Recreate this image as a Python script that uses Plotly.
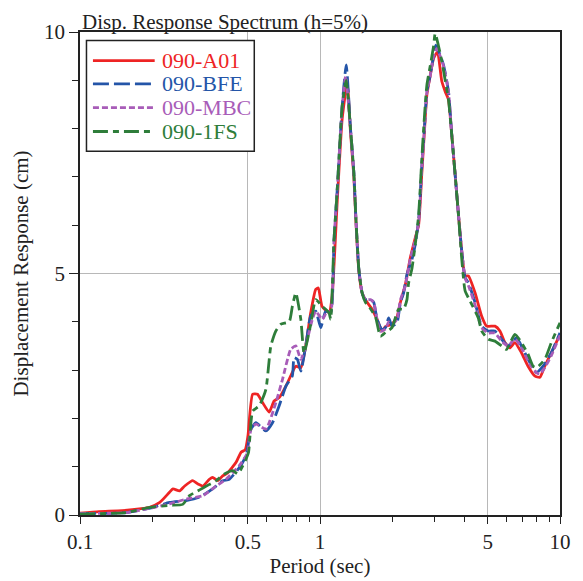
import plotly.graph_objects as go

# ---------------- data ----------------
names = ["090-A01", "090-BFE", "090-MBC", "090-1FS"]
colors = ["#ee2424", "#2455a8", "#a85cb8", "#2e7d3a"]
dashes = ["solid", "16px,5px", "6px,3px", "15px,5px,6px,5px"]

t_a01 = [0.1, 0.12, 0.15, 0.18, 0.195, 0.215, 0.236, 0.244, 0.26, 0.273, 0.295, 0.31, 0.325, 0.346, 0.357,
         0.375, 0.393, 0.412, 0.447, 0.469, 0.488, 0.501, 0.524, 0.549, 0.576, 0.614, 0.644, 0.676, 0.721,
         0.755, 0.793, 0.832, 0.872, 0.915, 0.96, 0.984, 1.02, 1.09, 1.122, 1.18, 1.237, 1.298, 1.341, 1.384,
         1.414, 1.452, 1.498, 1.548, 1.648, 1.729, 1.814, 1.874, 1.995, 2.093, 2.162, 2.268, 2.377, 2.494,
         2.575, 2.658, 2.728, 2.788, 2.88, 2.972, 3.087, 3.217, 3.323, 3.43, 3.54, 3.656, 3.775, 3.896,
         4.024, 4.153, 4.426, 4.714, 4.945, 5.358, 5.62, 5.896, 6.18, 6.486, 6.91, 7.36, 7.85, 8.24, 8.64,
         9.35, 10.0]
v_a01 = [0.04, 0.07, 0.09, 0.13, 0.16, 0.26, 0.47, 0.54, 0.5, 0.6, 0.71, 0.64, 0.6, 0.74, 0.78,
         0.71, 0.81, 0.87, 1.09, 1.3, 1.35, 1.64, 2.5, 2.5, 2.33, 2.13, 2.36, 2.43, 2.67,
         2.88, 3.08, 3.05, 3.5, 4.19, 4.67, 4.7, 4.32, 4.19, 4.5, 6.5, 8.2, 8.94, 7.9, 7.0,
         6.0, 5.05, 4.6, 4.45, 4.26, 4.05, 3.81, 3.9, 3.95, 4.1, 4.4, 4.77, 5.32, 5.74,
         6.0, 7.1, 8.0, 8.7, 9.1, 9.45, 9.59, 8.98, 8.77, 8.6, 7.87, 7.05, 6.22, 5.46,
         4.95, 4.95, 4.6, 4.12, 3.91, 3.91, 3.81, 3.57, 3.46, 3.57, 3.36, 3.08, 2.88, 2.85, 3.08,
         3.43, 3.74]

t_bfe = [0.1, 0.156, 0.2015, 0.236, 0.277, 0.315, 0.357, 0.393, 0.419, 0.461, 0.492, 0.516, 0.541, 0.595,
         0.634, 0.676, 0.721, 0.767, 0.78, 0.805, 0.832, 0.872, 0.915, 0.96, 1.007, 1.056, 1.108, 1.144,
         1.18, 1.237, 1.286, 1.341, 1.384, 1.414, 1.452, 1.498, 1.548, 1.623, 1.675, 1.729, 1.814, 1.874,
         1.933, 1.995, 2.093, 2.162, 2.231, 2.303, 2.415, 2.494, 2.575, 2.658, 2.728, 2.788, 2.88, 2.972,
         3.039, 3.269, 3.43, 3.54, 3.656, 3.775, 3.896, 4.024, 4.153, 4.426, 4.714, 5.024, 5.358, 5.707,
         6.084, 6.588, 7.02, 7.486, 7.975, 8.5, 9.2, 10.0]
v_bfe = [0.03, 0.05, 0.16, 0.26, 0.3, 0.37, 0.54, 0.71, 0.74, 0.98, 1.23, 1.78, 1.91, 1.74,
         1.91, 2.26, 2.67, 2.88, 3.26, 3.22, 2.98, 3.5, 4.12, 4.22, 3.88, 4.22, 4.19, 5.7,
         6.74, 8.46, 9.32, 7.98, 7.08, 6.05, 5.08, 4.6, 4.46, 4.46, 4.4, 4.05, 3.84, 3.88,
         4.08, 3.91, 3.98, 4.4, 4.6, 4.98, 5.29, 5.6, 6.1, 7.25, 8.08, 8.77, 9.11, 9.5,
         9.73, 9.32, 8.77, 7.87, 7.05, 6.22, 5.46, 4.91, 4.81, 4.4, 3.91, 3.81, 3.81, 3.64,
         3.5, 3.67, 3.43, 3.16, 2.95, 3.08, 3.36, 3.77]

t_mbc = [0.1, 0.156, 0.2, 0.236, 0.277, 0.325, 0.369, 0.406, 0.461, 0.499, 0.516, 0.541, 0.595, 0.655,
         0.698, 0.755, 0.793, 0.832, 0.872, 0.929, 0.96, 1.022, 1.072, 1.108, 1.144, 1.18, 1.237, 1.279,
         1.341, 1.384, 1.414, 1.452, 1.498, 1.548, 1.623, 1.675, 1.729, 1.786, 1.874, 1.933, 1.995, 2.093,
         2.162, 2.268, 2.377, 2.494, 2.575, 2.658, 2.728, 2.788, 2.88, 2.972, 3.067, 3.269, 3.43, 3.54,
         3.656, 3.775, 3.896, 4.024, 4.153, 4.426, 4.714, 5.024, 5.358, 5.707, 6.084, 6.486, 7.02, 7.486,
         7.975, 8.24, 8.64, 9.2, 10.0]
v_mbc = [0.03, 0.05, 0.15, 0.23, 0.33, 0.4, 0.6, 0.74, 1.02, 1.29, 1.78, 1.88, 1.78, 2.33,
         2.81, 3.43, 3.5, 3.22, 3.5, 4.05, 4.22, 4.05, 4.22, 4.19, 5.7, 6.74, 8.46, 9.08,
         7.98, 7.08, 6.05, 5.08, 4.6, 4.46, 4.46, 4.4, 4.05, 3.8, 3.85, 4.0, 3.95, 4.05,
         4.45, 4.75, 5.3, 5.7, 6.05, 7.2, 8.05, 8.75, 9.1, 9.5, 9.66, 9.3, 8.77, 7.87,
         7.05, 6.22, 5.46, 4.9, 4.75, 4.35, 3.88, 3.77, 3.77, 3.6, 3.5, 3.65, 3.4, 3.12,
         2.95, 2.92, 3.05, 3.3, 3.72]

t_1fs = [0.1, 0.156, 0.195, 0.236, 0.268, 0.286, 0.315, 0.336, 0.369, 0.4, 0.433, 0.454, 0.469, 0.492,
         0.504, 0.524, 0.558, 0.595, 0.624, 0.655, 0.687, 0.744, 0.767, 0.793, 0.832, 0.858, 0.915, 0.96,
         1.022, 1.09, 1.108, 1.144, 1.18, 1.237, 1.286, 1.341, 1.384, 1.414, 1.452, 1.498, 1.548, 1.597,
         1.703, 1.786, 1.874, 1.995, 2.127, 2.231, 2.303, 2.339, 2.415, 2.494, 2.575, 2.658, 2.728, 2.788,
         2.88, 2.972, 3.02, 3.217, 3.323, 3.43, 3.54, 3.656, 3.775, 3.896, 4.024, 4.22, 4.568, 4.714,
         5.024, 5.358, 5.707, 5.985, 6.486, 6.91, 7.36, 7.727, 7.975, 8.64, 9.2, 10.0]
v_1fs = [0.02, 0.05, 0.16, 0.2, 0.22, 0.4, 0.52, 0.6, 0.71, 0.85, 0.92, 0.85, 0.95, 1.16,
         1.3, 2.15, 2.26, 2.6, 3.5, 3.81, 3.95, 4.0, 4.32, 4.6, 4.05, 3.35, 3.95, 4.46,
         4.32, 4.19, 4.05, 5.7, 6.74, 8.46, 9.0, 7.98, 7.08, 6.05, 5.08, 4.6, 4.4, 4.32,
         4.1, 3.7, 3.78, 3.88, 4.26, 4.26, 4.46, 4.8, 5.1, 5.6, 6.2, 7.4, 8.3, 8.9,
         9.3, 9.7, 9.97, 9.4, 9.0, 8.6, 7.87, 7.05, 6.22, 5.3, 4.64, 4.43, 4.08, 3.81,
         3.64, 3.6, 3.5, 3.43, 3.74, 3.57, 3.33, 3.08, 3.05, 3.22, 3.57, 3.98]

periods = [t_a01, t_bfe, t_mbc, t_1fs]
values = [v_a01, v_bfe, v_mbc, v_1fs]

x_ticks = [0.1, 0.5, 1, 5, 10]
x_ticktext = ["0.1", "0.5", "1", "5", "10"]
x_minor = [0.2, 0.3, 0.4, 0.6, 0.7, 0.8, 0.9, 2, 3, 4, 6, 7, 8, 9]
y_ticks = [0, 5, 10]
y_minor = [1, 2, 3, 4, 6, 7, 8, 9]

title_text = "Disp. Response Spectrum (h=5%)"
x_title = "Period (sec)"
y_title = "Displacement Response (cm)"

# ---------------- figure ----------------
FONT = "Liberation Serif, Times New Roman, serif"
W, H = 583, 581
L, R, T, B = 80, 21, 32, 65
PW, PH = W - L - R, H - T - B


def px_x(px):
    return (px - L) / PW


def px_y(py):
    return (H - B - py) / PH


fig = go.Figure()
for t, v, n, c, d in zip(periods, values, names, colors, dashes):
    fig.add_trace(go.Scatter(x=t, y=v, mode="lines", name=n,
                             line=dict(color=c, width=2.8, dash=d, shape="spline", smoothing=0.5),
                             showlegend=False))

# manual legend (box, line samples, coloured labels)
shapes = [dict(type="rect", xref="paper", yref="paper",
               x0=px_x(86.5), x1=px_x(255), y0=px_y(151.5), y1=px_y(40.5),
               line=dict(color="#222", width=1.5), fillcolor="white", layer="above")]
annotations = []
row_y = [60.7, 84.0, 107.7, 131.7]
for i, (n, c, d) in enumerate(zip(names, colors, dashes)):
    shapes.append(dict(type="line", xref="paper", yref="paper",
                       x0=px_x(93), x1=px_x(155), y0=px_y(row_y[i]), y1=px_y(row_y[i]),
                       line=dict(color=c, width=2.8, dash=d), layer="above"))
    annotations.append(dict(text=n, xref="paper", yref="paper", x=px_x(160), y=px_y(row_y[i]),
                            xanchor="left", yanchor="middle", showarrow=False,
                            font=dict(family=FONT, size=22, color=c)))

annotations.append(dict(text=title_text, xref="paper", yref="paper", x=0, y=1,
                        xanchor="left", yanchor="bottom", showarrow=False, yshift=-4,
                        font=dict(family=FONT, size=21, color="#222")))

fig.update_layout(
    width=W, height=H,
    margin=dict(l=L, r=R, t=T, b=B),
    paper_bgcolor="white", plot_bgcolor="white",
    font=dict(family=FONT, size=21, color="#222"),
    shapes=shapes, annotations=annotations,
    showlegend=False,
)
fig.update_xaxes(
    type="log", range=[-1, 1],
    tickmode="array", tickvals=x_ticks, ticktext=x_ticktext,
    ticks="outside", ticklen=7, tickwidth=1.3, tickcolor="#222",
    minor=dict(tickmode="array", tickvals=x_minor, ticks="outside", ticklen=5,
               tickwidth=1.3, tickcolor="#222", showgrid=False),
    showgrid=True, gridcolor="#b8b8b8", gridwidth=1.3,
    showline=True, linecolor="#222", linewidth=1.5, mirror=True,
    zeroline=False,
    tickfont=dict(family=FONT, size=21, color="#222"),
    title=dict(text=x_title, font=dict(family=FONT, size=21, color="#222"), standoff=0),
)
fig.update_yaxes(
    range=[0, 10],
    tickmode="array", tickvals=y_ticks,
    ticks="outside", ticklen=9, tickwidth=1.3, tickcolor="#222",
    minor=dict(tickmode="array", tickvals=y_minor, ticks="outside", ticklen=6,
               tickwidth=1.3, tickcolor="#222", showgrid=False),
    showgrid=True, gridcolor="#b8b8b8", gridwidth=1.3,
    showline=True, linecolor="#222", linewidth=1.5, mirror=True,
    zeroline=False,
    tickfont=dict(family=FONT, size=21, color="#222"),
    title=dict(text=y_title, font=dict(family=FONT, size=21, color="#222"), standoff=10),
)

fig.write_html("out.html")
